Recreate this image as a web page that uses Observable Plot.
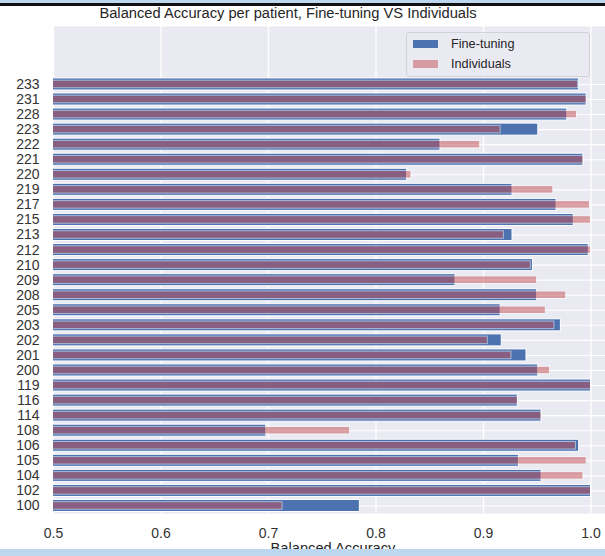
<!DOCTYPE html>
<html>
<head>
<meta charset="utf-8">
<script src="https://cdn.jsdelivr.net/npm/d3@7"></script>
<script src="https://cdn.jsdelivr.net/npm/@observablehq/plot@0.6"></script>
<style>
  body { margin: 0; background: #fff; font-family: "Liberation Sans", Arial, sans-serif; }
  #wrap { position: relative; width: 605px; height: 556px; overflow: hidden; background: #fff; }
  #wrap svg { position: absolute; left: 0; top: 0; }
  .abs { position: absolute; white-space: nowrap; }
  #title { left: 288px; top: 6px; transform: translateX(-50%); font-size: 14.7px; line-height: 14px; color: #262626; }
  #xlabel { left: 333px; top: 541px; transform: translateX(-50%); font-size: 14.7px; line-height: 14px; color: #262626; }
  #legend { left: 406px; top: 32px; width: 182px; height: 43px; border: 1px solid #d2d2da; border-radius: 3px; background: rgba(234,234,242,0.8); }
  .sw { position: absolute; left: 6px; width: 25px; height: 8px; }
  .lt { position: absolute; left: 44px; font-size: 12.7px; line-height: 12.5px; color: #262626; }
  #topband { left: 0; top: 0; width: 605px; height: 3px; background: #bcd7ef; }
  #topline { left: 0; top: 3px; width: 605px; height: 2.5px; background: #111; }
  #botband { left: 0; top: 549px; width: 605px; height: 7px; background: #bcd7ef; }
</style>
</head>
<body>
<div id="wrap"></div>
<script>
// Patients listed top to bottom, with balanced accuracy for each approach
const patients = [233, 231, 228, 223, 222, 221, 220, 219, 217, 215, 213, 212, 210, 209,
                  208, 205, 203, 202, 201, 200, 119, 116, 114, 108, 106, 105, 104, 102, 100];
const fineTuning = [0.989, 0.996, 0.978, 0.951, 0.860, 0.993, 0.829, 0.927, 0.968, 0.984, 0.927, 0.998, 0.946, 0.874,
                    0.950, 0.916, 0.972, 0.917, 0.940, 0.951, 1.000, 0.932, 0.954, 0.698, 0.989, 0.933, 0.954, 1.000, 0.785];
const individuals = [0.988, 0.996, 0.987, 0.916, 0.897, 0.993, 0.833, 0.965, 0.999, 1.000, 0.919, 1.000, 0.944, 0.950,
                     0.977, 0.958, 0.966, 0.904, 0.926, 0.962, 1.000, 0.932, 0.954, 0.776, 0.986, 0.996, 0.993, 1.000, 0.713];
const xTicks = [0.5, 0.6, 0.7, 0.8, 0.9, 1.0];
const seriesNames = ["Fine-tuning", "Individuals"];
const seriesColors = ["#4c72b0", "#c44e52"];

// row position: 0 at the bottom (patient 100), counting upward
const n = patients.length;
const rows = patients.map((p, k) => ({
  patient: String(p),
  pos: n - 1 - k,
  fine: fineTuning[k],
  indiv: individuals[k]
}));
const labelAt = new Map(rows.map(r => [r.pos, r.patient]));
const rowTicks = rows.map(r => r.pos);

const font = '"Liberation Sans", Arial, sans-serif';

const chart = Plot.plot({
  width: 605,
  height: 556,
  marginLeft: 53,
  marginRight: 0,
  marginTop: 26,
  marginBottom: 43,
  style: { fontFamily: font, fontSize: "14px", color: "#333", background: "transparent", overflow: "visible" },
  x: { domain: [0.5, 1.0135] },
  y: { domain: [-0.5, n + 2.85] },
  marks: [
    Plot.frame({ fill: "#eaeaf2", stroke: null }),
    Plot.gridX(xTicks, { stroke: "white", strokeOpacity: 1, strokeWidth: 1.3 }),
    Plot.gridY(rowTicks, { stroke: "white", strokeOpacity: 1, strokeWidth: 1.1 }),
    Plot.rect(rows, {
      x1: () => 0, x2: "fine",
      y1: d => d.pos - 0.4, y2: d => d.pos + 0.4,
      fill: seriesColors[0], stroke: "white", strokeWidth: 1, clip: true
    }),
    Plot.rect(rows, {
      x1: () => 0, x2: "indiv",
      y1: d => d.pos - 0.25, y2: d => d.pos + 0.25,
      fill: seriesColors[1], stroke: "white", strokeWidth: 1, opacity: 0.5, clip: true
    }),
    Plot.axisX(xTicks, { tickSize: 0, tickPadding: 15, tickFormat: d => d.toFixed(1), label: null, fontSize: 14 }),
    Plot.axisY(rowTicks, { tickSize: 0, tickPadding: 14, tickFormat: i => labelAt.get(i), label: null, fontSize: 14 })
  ]
});

const wrap = document.getElementById("wrap");
wrap.appendChild(chart);

function addDiv(id, html) {
  const el = document.createElement("div");
  el.id = id;
  el.className = "abs";
  if (html) el.innerHTML = html;
  wrap.appendChild(el);
  return el;
}

addDiv("title", "Balanced Accuracy per patient, Fine-tuning VS Individuals");
addDiv("xlabel", "Balanced Accuracy");

// legend
const legend = addDiv("legend");
seriesNames.forEach((name, k) => {
  const sw = document.createElement("div");
  sw.className = "sw";
  sw.style.top = (7 + k * 20) + "px";
  sw.style.background = seriesColors[k];
  if (k === 1) sw.style.opacity = 0.5;
  legend.appendChild(sw);
  const t = document.createElement("div");
  t.className = "lt";
  t.style.top = (5 + k * 19.5) + "px";
  t.textContent = name;
  legend.appendChild(t);
});

addDiv("topband");
addDiv("topline");
addDiv("botband");
</script>
</body>
</html>
